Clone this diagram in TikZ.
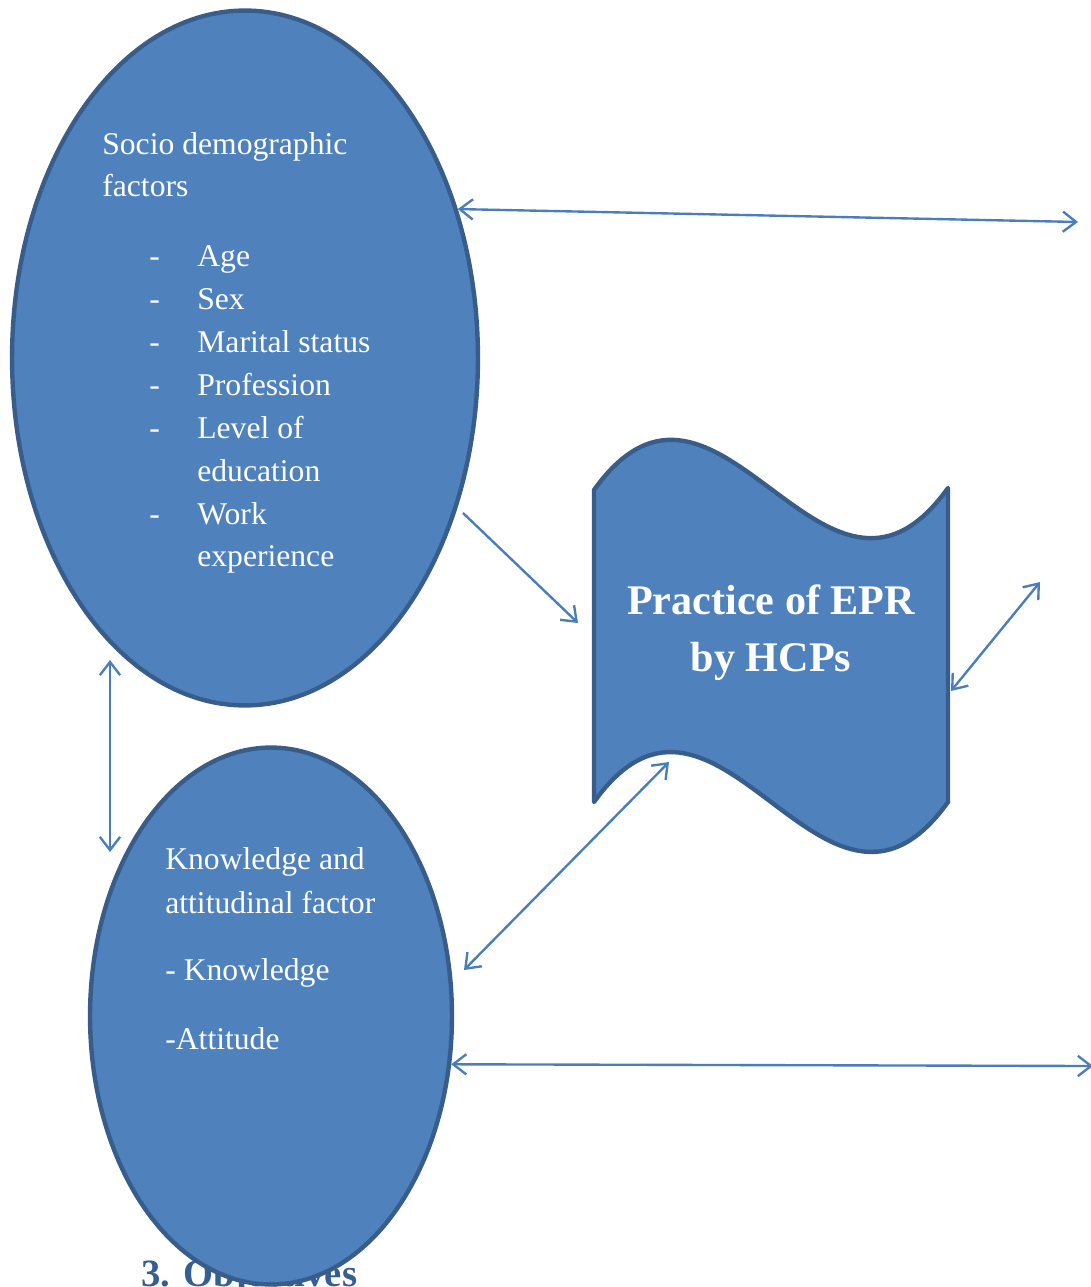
\documentclass[tikz,border=0pt]{standalone}
\usepackage{fontspec}
\setmainfont{Liberation Serif}
\usepackage{tikz}
\usetikzlibrary{arrows.meta,shapes.geometric}

\definecolor{shapeblue}{HTML}{4F81BD}
\definecolor{edgeblue}{HTML}{385D8A}
\definecolor{arrowblue}{HTML}{4A7EBB}
\definecolor{headblue}{HTML}{365F91}

\tikzset{
  blob/.style={ellipse, fill=shapeblue, draw=edgeblue, line width=2.5pt, inner sep=0pt},
  wave/.style={fill=shapeblue, draw=edgeblue, line width=2.5pt, line join=round},
  link/.style={draw=arrowblue, line width=1.35pt},
  lbl/.style={text=white, font=\fontsize{18}{22}\selectfont, anchor=base west, inner sep=0pt},
  title/.style={text=white, font=\bfseries\fontsize{24}{30}\selectfont, anchor=base, inner sep=0pt}
}

\begin{document}
\begin{tikzpicture}[x=0.02cm, y=-0.02cm, >={Straight Barb[length=7.5pt,width=11.5pt]}]
  \useasboundingbox (0,0) rectangle (1091,1287);

  \node [anchor=base west, inner sep=0pt, text=headblue, font=\bfseries\fontsize{22}{26}\selectfont] (obj) at (141,1286) {3. Objectives};

  % the two factor groups
  \node [blob, minimum width=9.32cm, minimum height=13.9cm] (socio) at (245,358) {};
  \node [blob, minimum width=7.24cm, minimum height=10.74cm] (know) at (271,1016) {};

  % the outcome
  \draw [wave] (594,490) .. controls (718,317) and (824,661) .. (948,488)
    -- (948,802) .. controls (824,975) and (718,629) .. (594,802) -- cycle;
  \node [title] (practice) at (771,614) {Practice of EPR};
  \node [title] (hcps) at (771,671) {by HCPs};

  \node [lbl] (socio1) at (102,155) {Socio demographic};
  \node [lbl] (socio2) at (102,197) {factors};
  \foreach \y/\t [count=\i] in {267/Age, 310/Sex, 352/Marital status, 395/Profession,
      438/Level of, 481/education, 524/Work, 566/experience}
    \node [lbl] (item\i) at (197,\y) {\t};
  \foreach \y [count=\i] in {267,310,352,395,438,524}
    \node [lbl] (dash\i) at (149,\y) {-};

  \node [lbl] (know1) at (165,869) {Knowledge and};
  \node [lbl] (know2) at (165,913) {attitudinal factor};
  \node [lbl] (know3) at (165,980) {- Knowledge};
  \node [lbl] (know4) at (165,1049) {-Attitude};

  \coordinate (r1) at (1078,222);
  \coordinate (a1) at (463,513);
  \coordinate (a2) at (578,623);
  \coordinate (waveR) at (951,691);
  \coordinate (r2) at (1040,582);
  \coordinate (k1) at (464,970);
  \coordinate (waveB) at (669,762);
  \coordinate (r3) at (1093,1066);
  \coordinate (v1) at (110,660);
  \coordinate (v2) at (110,852);

  \draw [link, <->] (socio.35) -- (r1);
  \draw [link, ->] (a1) -- (a2);
  \draw [link, <->] (waveR) -- (r2);
  \draw [link, <->] (k1) -- (waveB);
  \draw [link, <->] (know.-15) -- (r3);
  \draw [link, <->] (v1) -- (v2);
\end{tikzpicture}
\end{document}
